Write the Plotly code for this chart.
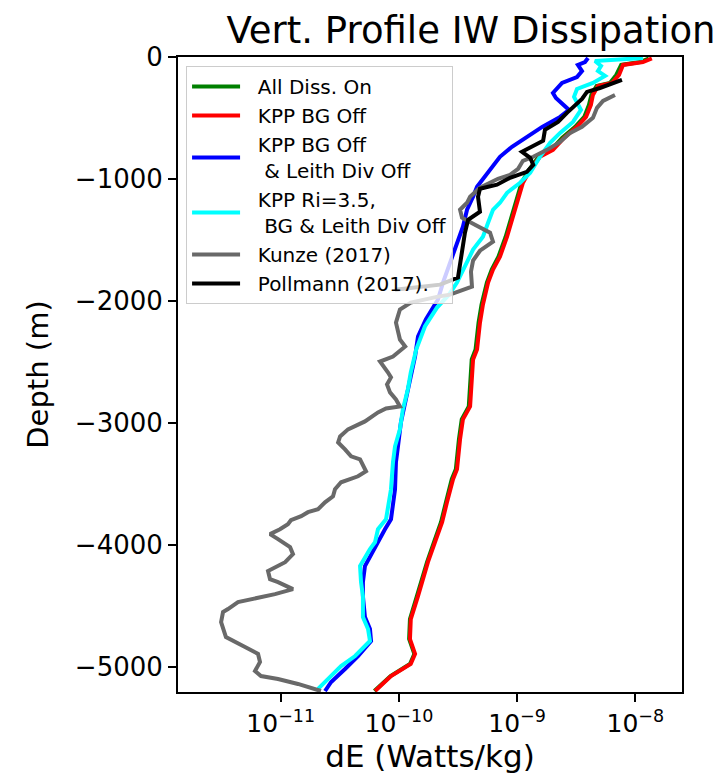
import plotly.graph_objects as go

# ---- model run: all dissipation on ----
depth_model_a = [-12, -41, -65, -147, -213, -237, -311, -393, -491, -573, -663, -761, -818, -925,
                 -1031, -1195, -1358, -1473, -1637, -1743, -1849, -2029, -2177, -2398, -2479, -2643,
                 -2864, -2970, -3134, -3380, -3461, -3650, -3813, -3977, -4141, -4419, -4607, -4771,
                 -4893, -4975, -5074, -5197]
eps_all_on = [1.30e-8, 1.10e-8, 7.6e-9, 6.9e-9, 6.1e-9, 4.7e-9, 4.25e-9, 4.05e-9, 3.7e-9, 3.1e-9,
              2.4e-9, 1.95e-9, 1.52e-9, 1.26e-9, 1.09e-9, 9.7e-10, 8.8e-10, 8.0e-10, 6.95e-10, 6.1e-10,
              5.55e-10, 5.0e-10, 4.72e-10, 4.45e-10, 4.13e-10, 4.05e-10, 3.9e-10, 3.40e-10, 3.22e-10,
              3.03e-10, 2.80e-10, 2.50e-10, 2.27e-10, 1.98e-10, 1.73e-10, 1.42e-10, 1.24e-10, 1.22e-10,
              1.35e-10, 1.24e-10, 8.5e-11, 6.2e-11]
eps_bg_off = [1.38e-8, 1.16e-8, 7.87e-9, 7.28e-9, 6.35e-9, 4.83e-9, 4.38e-9, 4.21e-9, 3.83e-9, 3.21e-9,
              2.49e-9, 2.01e-9, 1.56e-9, 1.29e-9, 1.12e-9, 9.98e-10, 9.05e-10, 8.22e-10, 7.16e-10,
              6.25e-10, 5.68e-10, 5.14e-10, 4.85e-10, 4.58e-10, 4.24e-10, 4.15e-10, 4.00e-10, 3.48e-10,
              3.29e-10, 3.10e-10, 2.87e-10, 2.55e-10, 2.32e-10, 2.02e-10, 1.76e-10, 1.45e-10, 1.26e-10,
              1.24e-10, 1.37e-10, 1.26e-10, 8.57e-11, 6.28e-11]

# ---- model run: KPP BG off & Leith div off ----
depth_leith = [-8, -41, -65, -115, -164, -213, -295, -336, -434, -491, -573, -655, -736, -818, -900,
               -982, -1064, -1146, -1252, -1391, -1522, -1686, -1849, -1988, -2152, -2291, -2455,
               -2618, -2806, -2995, -3191, -3322, -3543, -3789, -3871, -3977, -4034, -4173, -4304,
               -4419, -4591, -4689, -4787, -4910, -5016, -5123, -5197]
eps_leith_off = [3.98e-9, 3.75e-9, 3.27e-9, 3.54e-9, 3.21e-9, 2.40e-9, 2.01e-9, 2.13e-9, 2.75e-9,
                 2.31e-9, 1.63e-9, 1.19e-9, 9.05e-10, 7.16e-10, 6.14e-10, 5.35e-10, 4.58e-10, 4.24e-10,
                 3.77e-10, 3.48e-10, 3.10e-10, 2.70e-10, 2.36e-10, 2.14e-10, 1.69e-10, 1.45e-10,
                 1.37e-10, 1.26e-10, 1.15e-10, 1.04e-10, 9.82e-11, 9.44e-11, 9.27e-11, 8.57e-11,
                 7.62e-11, 6.65e-11, 6.28e-11, 5.16e-11, 4.96e-11, 4.96e-11, 5.16e-11, 5.69e-11,
                 5.81e-11, 4.51e-11, 3.50e-11, 2.67e-11, 2.37e-11]

# ---- model run: KPP Ri=3.5, BG & Leith div off ----
depth_ri = [-8, -33, -74, -115, -155, -213, -262, -327, -434, -532, -622, -704, -818, -949, -1031,
            -1113, -1195, -1252, -1358, -1473, -1579, -1686, -1849, -1948, -2054, -2209, -2398, -2586,
            -2725, -2889, -3052, -3191, -3322, -3543, -3789, -3871, -3977, -4034, -4173, -4304, -4419,
            -4591, -4689, -4787, -4910, -4992, -5098, -5180]
eps_ri35 = [1.16e-8, 4.56e-9, 5.13e-9, 4.83e-9, 5.55e-9, 4.38e-9, 3.21e-9, 3.03e-9, 3.47e-9, 2.97e-9,
            2.31e-9, 1.90e-9, 1.56e-9, 1.29e-9, 1.06e-9, 8.22e-10, 7.16e-10, 6.25e-10, 5.68e-10,
            5.14e-10, 4.24e-10, 3.77e-10, 3.10e-10, 2.65e-10, 2.10e-10, 1.66e-10, 1.40e-10, 1.26e-10,
            1.19e-10, 1.08e-10, 1.02e-10, 9.27e-11, 8.91e-11, 8.57e-11, 7.78e-11, 6.65e-11, 6.28e-11,
            5.69e-11, 4.69e-11, 4.78e-11, 4.96e-11, 4.96e-11, 5.48e-11, 5.69e-11, 4.26e-11, 3.24e-11,
            2.51e-11, 2.07e-11]

# ---- observations: Kunze (2017) ----
depth_kunze = [-311, -360, -417, -499, -573, -622, -696, -761, -818, -851, -917, -966, -998, -1072,
               -1146, -1195, -1252, -1317, -1367, -1440, -1514, -1588, -1669, -1759, -1882, -1948,
               -1964, -2013, -2070, -2177, -2316, -2373, -2455, -2496, -2586, -2626, -2684, -2749,
               -2807, -2864, -2881, -2913, -2987, -3052, -3110, -3159, -3216, -3273, -3298, -3396,
               -3437, -3486, -3543, -3601, -3650, -3707, -3731, -3764, -3797, -3830, -3871, -3911,
               -3952, -4018, -4075, -4141, -4214, -4280, -4304, -4345, -4362, -4403, -4427, -4468,
               -4525, -4550, -4632, -4755, -4836, -4893, -4959, -5033, -5074, -5098, -5139, -5197]
eps_kunze = [6.73e-9, 5.33e-9, 4.74e-9, 4.38e-9, 3.54e-9, 2.81e-9, 2.31e-9, 1.79e-9, 1.37e-9, 1.12e-9,
             1.02e-9, 8.71e-10, 6.89e-10, 4.85e-10, 4.00e-10, 3.77e-10, 3.29e-10, 3.42e-10, 4.24e-10,
             5.90e-10, 6.25e-10, 4.85e-10, 4.24e-10, 4.07e-10, 4.15e-10, 2.70e-10, 2.14e-10, 1.26e-10,
             1.02e-10, 9.44e-11, 1.02e-10, 1.13e-10, 8.91e-11, 6.92e-11, 8.09e-11, 8.57e-11, 7.93e-11,
             8.41e-11, 9.44e-11, 1.02e-10, 7.78e-11, 6.65e-11, 5.16e-11, 3.71e-11, 3.18e-11, 3.06e-11,
             3.50e-11, 3.94e-11, 4.69e-11, 5.27e-11, 4.51e-11, 3.24e-11, 2.88e-11, 2.77e-11, 2.37e-11,
             2.07e-11, 1.70e-11, 1.49e-11, 1.22e-11, 1.15e-11, 9.86e-12, 8.12e-12, 9.49e-12, 1.20e-11,
             1.27e-11, 1.09e-11, 7.81e-12, 8.12e-12, 9.49e-12, 1.15e-11, 1.27e-11, 8.95e-12, 6.81e-12,
             4.35e-12, 3.58e-12, 3.25e-12, 3.13e-12, 3.44e-12, 4.99e-12, 6.43e-12, 6.68e-12, 6.06e-12,
             6.81e-12, 9.49e-12, 1.40e-11, 2.19e-11]

# ---- observations: Pollmann (2017) ----
depth_pollmann = [-188, -213, -254, -286, -344, -458, -532, -597, -687, -777, -826, -884, -941, -990,
                  -1047, -1080, -1146, -1268, -1334, -1440, -1579, -1702, -1808, -1866, -1907]
eps_pollmann = [7.71e-9, 6.61e-9, 5.02e-9, 3.90e-9, 3.54e-9, 2.64e-9, 2.22e-9, 1.72e-9, 1.66e-9,
                1.10e-9, 1.29e-9, 1.37e-9, 1.21e-9, 8.71e-10, 6.76e-10, 4.85e-10, 4.67e-10, 4.85e-10,
                3.85e-10, 3.62e-10, 3.42e-10, 3.29e-10, 3.16e-10, 2.23e-10, 9.27e-11]

x_tick_vals = [1e-11, 1e-10, 1e-9, 1e-8]
x_tick_text = ["10<sup>\u221211</sup>", "10<sup>\u221210</sup>", "10<sup>\u22129</sup>", "10<sup>\u22128</sup>"]
y_tick_vals = [0, -1000, -2000, -3000, -4000, -5000]
y_tick_text = ["0", "\u22121000", "\u22122000", "\u22123000", "\u22124000", "\u22125000"]

NB = "\u00a0\u00a0"  # small gap between legend line sample and its label
series = [
    ("All Diss. On", eps_all_on, depth_model_a, "#008000"),
    ("KPP BG Off", eps_bg_off, depth_model_a, "#ff0000"),
    ("KPP BG Off<br>" + NB + "\u00a0& Leith Div Off", eps_leith_off, depth_leith, "#0000ff"),
    ("KPP Ri=3.5,<br>" + NB + "\u00a0BG & Leith Div Off", eps_ri35, depth_ri, "#00ffff"),
    ("Kunze (2017)", eps_kunze, depth_kunze, "#696969"),
    ("Pollmann (2017).", eps_pollmann, depth_pollmann, "#000000"),
]

FONT = "DejaVu Sans"
fig = go.Figure()
for name, xs, ys, color in series:
    fig.add_trace(go.Scatter(x=xs, y=ys, mode="lines", name=NB + name,
                             line=dict(color=color, width=4)))

fig.update_layout(
    width=726, height=774,
    margin=dict(l=178, r=44, t=57, b=82),
    paper_bgcolor="white", plot_bgcolor="white",
    font=dict(family=FONT, color="black"),
    showlegend=True,
    title=dict(text="Vert. Profile IW Dissipation", font=dict(family=FONT, size=37, color="black"),
               x=471 / 726, xref="container", xanchor="center",
               y=1 - 30 / 774, yref="container", yanchor="middle"),
    legend=dict(x=0.016, y=0.986, xanchor="left", yanchor="top",
                bgcolor="rgba(255,255,255,0.8)", bordercolor="#cccccc", borderwidth=1,
                font=dict(family=FONT, size=20, color="black"), itemwidth=48,
                tracegroupgap=0),
    xaxis=dict(type="log", range=[-11.869, -7.605], tickvals=x_tick_vals, ticktext=x_tick_text,
               ticks="outside", ticklen=8, tickwidth=1.5, tickcolor="black",
               showline=True, linecolor="black", linewidth=2, mirror=True,
               showgrid=False, zeroline=False, automargin=False,
               tickfont=dict(family=FONT, size=25, color="black"),
               title=dict(text="dE (Watts/kg)", font=dict(family=FONT, size=31, color="black"), standoff=9)),
    yaxis=dict(range=[-5205, 0], tickvals=y_tick_vals, ticktext=y_tick_text,
               ticks="outside", ticklen=8, tickwidth=1.5, tickcolor="black",
               showline=True, linecolor="black", linewidth=2, mirror=True,
               showgrid=False, zeroline=False, automargin=False,
               tickfont=dict(family=FONT, size=26, color="black"),
               title=dict(text="Depth (m)", font=dict(family=FONT, size=29, color="black"), standoff=18)),
)

fig.write_html("out.html")
